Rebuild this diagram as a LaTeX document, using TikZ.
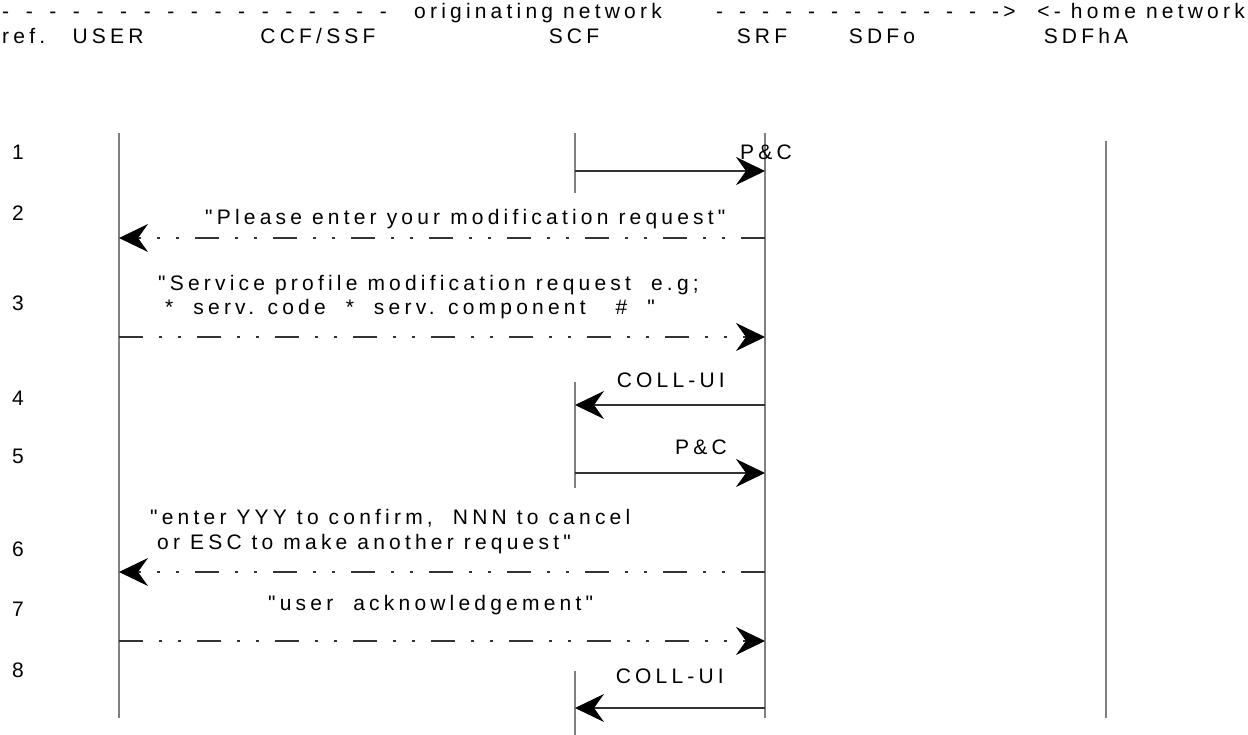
\documentclass[tikz,border=0pt]{standalone}
\usepackage{fontspec}
\newfontfamily\lab{Liberation Sans}[LetterSpace=20]
\usetikzlibrary{arrows.meta}
\begin{document}
\begin{tikzpicture}[x=1pt,y=-1pt,
  every node/.style={inner sep=0pt,font=\lab\fontsize{21}{24}\selectfont},
  life/.style={draw=black!50,line width=1.3pt},
  msg/.style={draw=black!80,line width=1.2pt,-{Stealth[length=29pt,width=28pt,inset=10pt,black]}},
  dd/.style={dash pattern=on 24pt off 16pt on 3pt off 16pt on 3pt off 16pt},
  lw/.style={anchor=base west},
  le/.style={anchor=base east},
  lc/.style={anchor=base},
]
\useasboundingbox (0,0) rectangle (1248,735);
% header
\node[lw] (hd1) at (2,19) {\foreach \i in {1,...,16}{\makebox[23.6pt][l]{-}}-};
\node[lw] (hon) at (414,19) {originating network};
\node[lw] (hd2) at (716,19) {\foreach \i in {1,...,12}{\makebox[23pt][l]{-}}->};
\node[le] (hhn) at (1245,19) {<- home network};
\node[lw] (tref) at (2,44) {ref.};
\node[lc] (tuser) at (108,44) {USER};
\node[lc] (tccf) at (318,44) {CCF/SSF};
\node[lc] (tscf) at (574,44) {SCF};
\node[lc] (tsrf) at (762,44) {SRF};
\node[lc] (tsdfo) at (882,44) {SDFo};
\node[lc] (tsdfh) at (1086,44) {SDFhA};
% row numbers
\node[lw] (n1) at (12,160) {1};
\node[lw] (n2) at (12,221) {2};
\node[lw] (n3) at (12,311) {3};
\node[lw] (n4) at (12,405) {4};
\node[lw] (n5) at (12,463) {5};
\node[lw] (n6) at (12,556) {6};
\node[lw] (n7) at (12,616) {7};
\node[lw] (n8) at (12,677) {8};
% lifelines
\coordinate (u1) at (119,133); \coordinate (u2) at (119,718);
\coordinate (r1) at (765,133); \coordinate (r2) at (765,718);
\coordinate (h1) at (1106,141); \coordinate (h2) at (1106,718);
\coordinate (s1a) at (575,133); \coordinate (s1b) at (575,193);
\coordinate (s4a) at (575,382); \coordinate (s4b) at (575,488);
\coordinate (s8a) at (575,671); \coordinate (s8b) at (575,735);
\draw[life] (u1) -- (u2);
\draw[life] (r1) -- (r2);
\draw[life] (h1) -- (h2);
\draw[life] (s1a) -- (s1b);
\draw[life] (s4a) -- (s4b);
\draw[life] (s8a) -- (s8b);
% message end points
\coordinate (m1a) at (575,171); \coordinate (m1b) at (765,171);
\coordinate (m2a) at (765,238); \coordinate (m2b) at (119,238);
\coordinate (m3a) at (119,337); \coordinate (m3b) at (765,337);
\coordinate (m4a) at (765,405); \coordinate (m4b) at (575,405);
\coordinate (m5a) at (575,473); \coordinate (m5b) at (765,473);
\coordinate (m6a) at (765,572); \coordinate (m6b) at (119,572);
\coordinate (m7a) at (119,641); \coordinate (m7b) at (765,641);
\coordinate (m8a) at (765,708); \coordinate (m8b) at (575,708);
\draw[msg] (m1a) -- (m1b);
\draw[msg,dd] (m2a) -- (m2b);
\draw[msg,dd] (m3a) -- (m3b);
\draw[msg] (m4a) -- (m4b);
\draw[msg] (m5a) -- (m5b);
\draw[msg,dd] (m6a) -- (m6b);
\draw[msg,dd] (m7a) -- (m7b);
\draw[msg] (m8a) -- (m8b);
% labels
\node[lw] (l1) at (740,160) {P\&C};
\node[lw] (l2) at (205,225) {"Please enter your modification request"};
\node[lw] (l3a) at (158,291) {"Service profile modification request\ \ e.g;};
\node[lw] (l3b) at (165,315) {*\ \ serv. code\ \ *\ \ serv. component\ \ \ \#\ \ "};
\node[le] (l4) at (725,388) {COLL-UI};
\node[le] (l5) at (727,454) {P\&C};
\node[lw] (l6a) at (150,524) {"enter YYY to confirm,\ \ NNN to cancel};
\node[lw] (l6b) at (157,549) {or ESC to make another request"};
\node[lw] (l7) at (268,610) {"user\ \ acknowledgement"};
\node[le] (l8) at (724,683) {COLL-UI};
\end{tikzpicture}
\end{document}
